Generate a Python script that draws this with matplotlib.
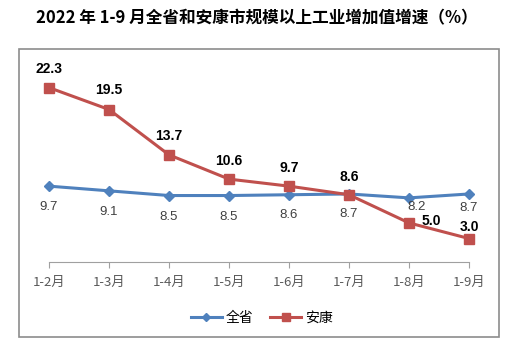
import matplotlib
matplotlib.use("Agg")
import matplotlib.pyplot as plt
from matplotlib.patches import Rectangle

plt.rcParams['font.family'] = ['Noto Sans CJK SC', 'DejaVu Sans']

# data
months = ["1-2月", "1-3月", "1-4月", "1-5月", "1-6月", "1-7月", "1-8月", "1-9月"]
province = [9.7, 9.1, 8.5, 8.5, 8.6, 8.7, 8.2, 8.7]
ankang = [22.3, 19.5, 13.7, 10.6, 9.7, 8.6, 5.0, 3.0]

blue = "#4F81BD"
red = "#C0504D"

fig = plt.figure(figsize=(5.13, 3.52), dpi=100)
ax = fig.add_axes([49 / 513, 90 / 352, 420 / 513, 195.5 / 352])

x = list(range(len(months)))
ax.plot(x, province, color=blue, lw=2.2, marker="D", ms=5.5, clip_on=False, label="全省")
ax.plot(x, ankang, color=red, lw=2.2, marker="s", ms=7.5, clip_on=False, label="安康")

ax.set_xlim(0, len(months) - 1)
ax.set_ylim(0, 25)
for s in ["top", "right", "left"]:
    ax.spines[s].set_visible(False)
ax.spines["bottom"].set_color("#A0A0A0")
ax.set_yticks([])
ax.set_xticks(x)
ax.set_xticklabels(months, fontsize=9.5, color="#595959")
ax.tick_params(axis="x", length=4, color="#A0A0A0", pad=6)

# blue labels (below)
blue_off = [(0, -21), (0, -21), (0, -21), (0, -21), (0, -20), (0, -20), (8, -9), (0, -14)]
for i, v in enumerate(province):
    ax.annotate(f"{v:.1f}", (i, v), xytext=blue_off[i], textcoords="offset pixels",
                ha="center", va="center", fontsize=9.5, color="#404040",
                family=["Liberation Sans", "DejaVu Sans"])

# red labels (above)
red_off = [(0, 19), (0, 20), (0, 19), (0, 18), (0, 18), (0, 18), (22, 2), (0, 12)]
for i, v in enumerate(ankang):
    ax.annotate(f"{v:.1f}", (i, v), xytext=red_off[i], textcoords="offset pixels",
                ha="center", va="center", fontsize=10, color="black", fontweight="bold",
                family=["Liberation Sans", "DejaVu Sans"])

fig.text(0.5, 1 - 18 / 352, "2022 年 1-9 月全省和安康市规模以上工业增加值增速（%）",
         ha="center", va="center", fontsize=12, fontweight="bold")

fig.patches.append(Rectangle((19 / 513, 15 / 352), 480 / 513, 288 / 352,
                             transform=fig.transFigure, fill=False,
                             edgecolor="#8C8C8C", lw=1.2))

fig.legend(loc="center", bbox_to_anchor=(262 / 513, 1 - 318 / 352), ncol=2,
           frameon=False, fontsize=10, handlelength=2.2, columnspacing=1.2,
           handletextpad=0.3, markerscale=0.8)

fig.savefig("out.png", dpi=100)
